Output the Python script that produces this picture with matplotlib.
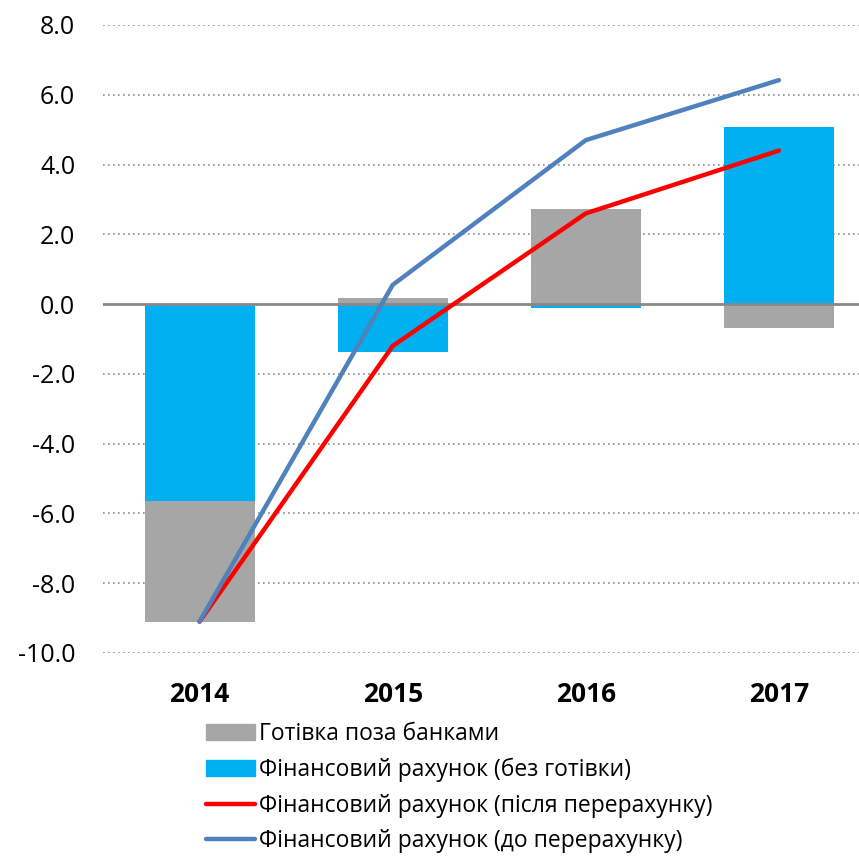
import matplotlib
matplotlib.use("Agg")
import matplotlib.pyplot as plt
import numpy as np
from matplotlib.patches import Patch
from matplotlib.lines import Line2D

years = ["2014", "2015", "2016", "2017"]
cash = [-3.45, 0.17, 2.72, -0.69]
fin_no_cash = [-5.65, -1.38, -0.12, 5.07]
fin_after = [-9.1, -1.2, 2.6, 4.4]
fin_before = [-9.1, 0.55, 4.7, 6.42]
yticks = [-10, -8, -6, -4, -2, 0, 2, 4, 6, 8]

plt.rcParams['font.family'] = ['Open Sans', 'DejaVu Sans']

fig = plt.figure(figsize=(8.59, 8.61), dpi=100)
ax = fig.add_axes([103/859, 1-653/861, 1-103/859, (653-25)/861])

x = np.arange(len(years))
w = 0.57
c_gray = "#A6A6A6"
c_blue = "#00B0F0"

# stacking: blue first, then gray on the same-sign side
pos_base = np.zeros(len(years))
neg_base = np.zeros(len(years))
def stack(vals):
    vals = np.array(vals, dtype=float)
    bottoms = np.where(vals >= 0, pos_base, neg_base)
    pos_base[:] = pos_base + np.where(vals >= 0, vals, 0)
    neg_base[:] = neg_base + np.where(vals < 0, vals, 0)
    return vals, bottoms

v, b = stack(fin_no_cash)
ax.bar(x, v, w, bottom=b, color=c_blue, zorder=2)
v, b = stack(cash)
ax.bar(x, v, w, bottom=b, color=c_gray, zorder=2)

ax.axhline(0, color="#888888", lw=2, zorder=3)
ax.plot(x, fin_after, color="#FF0000", lw=3.2, solid_capstyle="round", solid_joinstyle="round", zorder=4)
ax.plot(x, fin_before, color="#4F81BD", lw=3.2, solid_capstyle="round", solid_joinstyle="round", zorder=5)

ax.set_ylim(-10, 8)
ax.set_xlim(-0.5, (859-200)/193)
ax.set_yticks(yticks)
ax.set_yticklabels([f"{t:.1f}" for t in yticks], fontsize=18)
ax.set_xticks(x)
ax.set_xticklabels(years, fontsize=19, fontweight="bold")
ax.tick_params(axis="y", length=0, pad=20)
ax.tick_params(axis="x", length=0, pad=20)
for t in yticks:
    if t != 0:
        ax.axhline(t, color="#8C8C8C", lw=1.2, ls=(0, (1, 2)), zorder=1)
for s in ax.spines.values():
    s.set_visible(False)

handles = [Patch(color=c_gray), Patch(color=c_blue),
           Line2D([], [], color="#FF0000", lw=3.2, solid_capstyle="round"),
           Line2D([], [], color="#4F81BD", lw=3.2, solid_capstyle="round")]
labels = ["Готівка поза банками", "Фінансовий рахунок (без готівки)",
          "Фінансовий рахунок (після перерахунку)", "Фінансовий рахунок (до перерахунку)"]
fig.legend(handles, labels, loc="upper left", bbox_to_anchor=(195/859, 1-711/861),
           frameon=False, fontsize=16.5, handlelength=2.1, handletextpad=0.2,
           labelspacing=0.5, borderpad=0, handleheight=0.7)

fig.savefig("out.png", dpi=100)
